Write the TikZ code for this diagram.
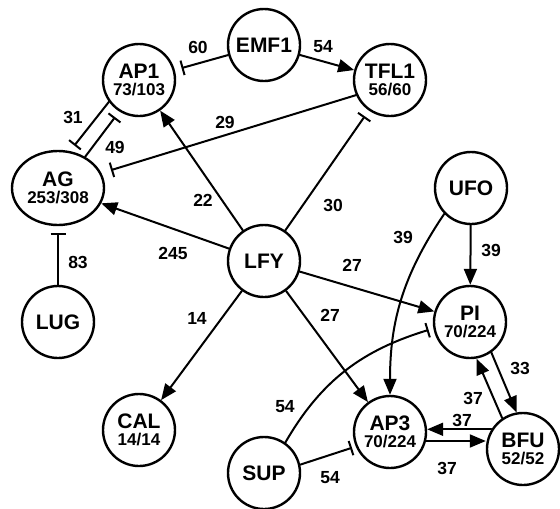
\documentclass[tikz,border=0pt]{standalone}
\usepackage{fontspec}
\setmainfont{Liberation Sans}
\usetikzlibrary{arrows.meta,shapes.geometric}
\newcommand{\gcount}[1]{\\[-4pt]{\fontsize{17}{17}\selectfont #1}}

\begin{document}
\begin{tikzpicture}[x=1pt,y=-1pt,line join=round,line cap=round,
  gene/.style={circle,draw,line width=2.4pt,minimum size=72pt,inner sep=0pt,
    align=center,font=\fontsize{21}{21}\selectfont\bfseries},
  act/.style={-{Triangle[length=16pt,width=13pt]},line width=2pt},
  inh/.style={-{Bar[width=15pt,line width=2pt]},line width=2pt,shorten >=7pt},
  num/.style={font=\fontsize{17.5}{17.5}\selectfont\bfseries,inner sep=0pt}]
  \useasboundingbox (0,0) rectangle (560,509);
  % genes
  \node[gene] (ap1) at (139,80) {AP1\gcount{73/103}};
  \node[gene] (emf1) at (264,45) {EMF1};
  \node[gene] (tfl1) at (390,80) {TFL1\gcount{56/60}};
  \node[gene,ellipse,minimum width=92pt,minimum height=74pt] (ag) at (58,188) {AG\gcount{253/308}};
  \node[gene] (lfy) at (264,261) {LFY};
  \node[gene] (ufo) at (471,188) {UFO};
  \node[gene] (lug) at (58,322) {LUG};
  \node[gene] (pi) at (470,322) {PI\gcount{70/224}};
  \node[gene] (cal) at (139,430) {CAL\gcount{14/14}};
  \node[gene] (ap3) at (390,432) {AP3\gcount{70/224}};
  \node[gene] (bfu) at (523,449) {BFU\gcount{52/52}};
  \node[gene] (sup) at (264,473) {SUP};
  % interactions
  \draw[inh] (emf1) -- (ap1);
  \draw[act] (emf1) -- (tfl1);
  \draw[inh,shorten >=10pt] (tfl1.204) -- (ag.19);
  \draw[inh] (ap1.216) -- (ag.72);
  \draw[inh] (ag.49) -- (ap1.238);
  \draw[act] (lfy) -- (ap1);
  \draw[act] (lfy) -- (ag);
  \draw[inh] (lfy) -- (tfl1);
  \draw[act] (lfy) -- (pi);
  \draw[act] (lfy) -- (ap3);
  \draw[act] (lfy) -- (cal);
  \draw[inh] (lug) -- (ag);
  \draw[act] (ufo) -- (pi);
  \draw[act] (ufo.224) to[out=236,in=90] (ap3.north);
  \draw[inh,shorten >=5pt] (sup.55) to[out=60,in=197] (pi.190);
  \draw[inh,shorten >=4pt] (sup.13) -- (ap3.203);
  \draw[act] (pi.305) -- (bfu.100);
  \draw[act] (bfu.124) -- (pi.280);
  \draw[act] (bfu.148) -- (bfu.148 -| ap3.east);
  \draw[act] (ap3.346) -- (ap3.346 -| bfu.west);
  % counts
  \node[num] (w60) at (198,47) {60};
  \node[num] (w54a) at (323,47) {54};
  \node[num] (w29) at (225,122) {29};
  \node[num] (w31) at (73,117) {31};
  \node[num] (w49) at (115,147) {49};
  \node[num] (w22) at (203,200) {22};
  \node[num] (w30) at (333,205) {30};
  \node[num] (w245) at (173,253) {245};
  \node[num] (w83) at (78,262) {83};
  \node[num] (w39a) at (403,237) {39};
  \node[num] (w39b) at (491,250) {39};
  \node[num] (w27a) at (352,265) {27};
  \node[num] (w27b) at (330,315) {27};
  \node[num] (w14) at (197,318) {14};
  \node[num] (w54b) at (285,407) {54};
  \node[num] (w54c) at (330,478) {54};
  \node[num] (w33) at (520,368) {33};
  \node[num] (w37a) at (473,398) {37};
  \node[num] (w37b) at (462,420) {37};
  \node[num] (w37c) at (447,468) {37};
\end{tikzpicture}
\end{document}
